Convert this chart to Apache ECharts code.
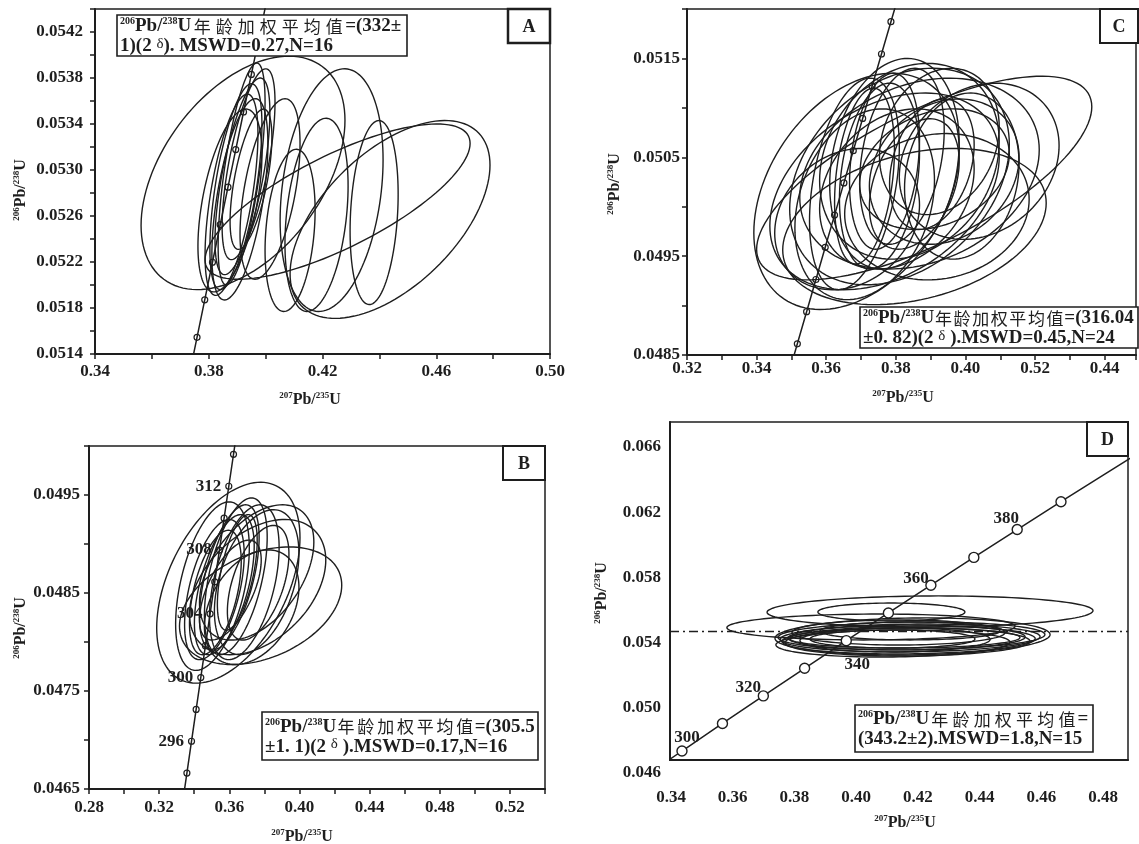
<!DOCTYPE html>
<html><head><meta charset="utf-8">
<script src="https://cdn.jsdelivr.net/npm/echarts@6/dist/echarts.min.js"></script>
<style>html,body{margin:0;padding:0;background:#fff}#c{width:1139px;height:844px}</style>
</head><body><div id="c"></div>
<script>
// ---------------- DATA ----------------
// error ellipses: [x_low, x_high, y_low, y_high, rho]  (207Pb/235U , 206Pb/238U)
const ellipsesA = [
  [0.3562, 0.4279, 0.05196, 0.05399, 0.45],
  [0.3787, 0.4719, 0.05205, 0.05340, 0.75],
  [0.4086, 0.4789, 0.05171, 0.05343, 0.55],
  [0.4051, 0.4413, 0.05177, 0.05388, 0.25],
  [0.4297, 0.4466, 0.05183, 0.05343, 0.2],
  [0.4068, 0.4290, 0.05177, 0.05345, 0.3],
  [0.3998, 0.4174, 0.05177, 0.05318, 0.25],
  [0.3833, 0.3998, 0.05200, 0.05393, 0.65],
  [0.3804, 0.3987, 0.05196, 0.05375, 0.6],
  [0.3822, 0.4015, 0.05209, 0.05380, 0.65],
  [0.3787, 0.3973, 0.05191, 0.05366, 0.6],
  [0.3847, 0.4033, 0.05222, 0.05388, 0.65],
  [0.3811, 0.4008, 0.05187, 0.05362, 0.55],
  [0.3875, 0.4022, 0.05231, 0.05353, 0.6],
  [0.3762, 0.3987, 0.05194, 0.05353, 0.5],
  [0.3910, 0.4121, 0.05205, 0.05362, 0.5]
];
const ellipsesC = [
  [0.3392, 0.3982, 0.04896, 0.05135, 0.35],
  [0.3438, 0.4097, 0.04916, 0.05115, 0.35],
  [0.3475, 0.4232, 0.04901, 0.05059, 0.3],
  [0.3400, 0.4363, 0.04926, 0.05132, 0.7],
  [0.3495, 0.4126, 0.04921, 0.05140, 0.3],
  [0.3524, 0.4212, 0.04937, 0.05130, 0.25],
  [0.3581, 0.4097, 0.04947, 0.05145, 0.2],
  [0.3610, 0.3982, 0.04937, 0.05150, 0.2],
  [0.3638, 0.3868, 0.04937, 0.05125, 0.25],
  [0.3667, 0.3868, 0.04957, 0.05135, 0.25],
  [0.3624, 0.3796, 0.04942, 0.05120, 0.3],
  [0.3696, 0.3939, 0.04962, 0.05140, 0.3],
  [0.3724, 0.4154, 0.04962, 0.05109, 0.2],
  [0.3753, 0.4097, 0.04992, 0.05140, 0.2],
  [0.3810, 0.4269, 0.04967, 0.05125, 0.2],
  [0.3696, 0.4126, 0.04977, 0.05099, 0.25],
  [0.3510, 0.3911, 0.04906, 0.05099, 0.25],
  [0.3552, 0.3810, 0.04916, 0.05130, 0.35],
  [0.3653, 0.4183, 0.04926, 0.05074, 0.1],
  [0.3825, 0.4154, 0.04947, 0.05115, 0.15],
  [0.3724, 0.3982, 0.04957, 0.05089, 0.35],
  [0.3452, 0.3868, 0.04916, 0.05059, 0.2],
  [0.3782, 0.4025, 0.04977, 0.05109, 0.3],
  [0.3581, 0.4025, 0.04937, 0.05099, 0.25]
];
const ellipsesB = [
  [0.3186, 0.4003, 0.04758, 0.04963, 0.45],
  [0.3316, 0.4241, 0.04777, 0.04897, 0.35],
  [0.3373, 0.4150, 0.04787, 0.04925, 0.4],
  [0.3430, 0.4082, 0.04802, 0.04940, 0.45],
  [0.3294, 0.3714, 0.04771, 0.04943, 0.45],
  [0.3345, 0.3685, 0.04782, 0.04925, 0.5],
  [0.3401, 0.3742, 0.04787, 0.04930, 0.55],
  [0.3430, 0.3770, 0.04792, 0.04940, 0.55],
  [0.3458, 0.3816, 0.04787, 0.04947, 0.5],
  [0.3373, 0.3668, 0.04787, 0.04914, 0.5],
  [0.3487, 0.3884, 0.04782, 0.04940, 0.45],
  [0.3515, 0.3997, 0.04787, 0.04935, 0.4],
  [0.3589, 0.3940, 0.04802, 0.04919, 0.5],
  [0.3458, 0.3997, 0.04777, 0.04894, 0.35],
  [0.3430, 0.3782, 0.04802, 0.04904, 0.6],
  [0.3532, 0.3759, 0.04812, 0.04930, 0.55]
];
const ellipsesD = [
  [0.3717, 0.4788, 0.05496, 0.05680, 0.05],
  [0.3884, 0.4367, 0.05532, 0.05638, 0.0],
  [0.3585, 0.4532, 0.05420, 0.05573, 0.05],
  [0.3743, 0.4647, 0.05331, 0.05550, 0.1],
  [0.3753, 0.4630, 0.05361, 0.05526, 0.1],
  [0.3760, 0.4614, 0.05349, 0.05514, 0.1],
  [0.3766, 0.4598, 0.05337, 0.05502, 0.1],
  [0.3776, 0.4581, 0.05325, 0.05491, 0.05],
  [0.3786, 0.4565, 0.05361, 0.05508, 0.05],
  [0.3792, 0.4548, 0.05372, 0.05491, 0.05],
  [0.3746, 0.4515, 0.05319, 0.05479, 0.1],
  [0.3799, 0.4499, 0.05390, 0.05538, 0.0],
  [0.3825, 0.4450, 0.05349, 0.05491, 0.05],
  [0.3858, 0.4400, 0.05372, 0.05479, 0.0],
  [0.3891, 0.4482, 0.05420, 0.05526, 0.0]
];

// concordia points [207Pb/235U, 206Pb/238U] with their ages (Ma)
const agesA = [322, 324, 326, 328, 330, 332, 334, 336, 338, 340, 342];
const concordiaA = [[0.373170,0.0512188],[0.375877,0.0515450],[0.378590,0.0518713],[0.381308,0.0521977],[0.384032,0.0525242],[0.386760,0.0528508],[0.389494,0.0531775],[0.392234,0.0535043],[0.394980,0.0538312],[0.397730,0.0541582],[0.400484,0.0544853]];
const markerAgesA = [324, 326, 328, 330, 332, 334, 336, 338, 340];

const agesC = [304, 306, 308, 310, 312, 314, 316, 318, 320, 322, 324, 326, 328];
const concordiaC = [[0.349042,0.0482876],[0.351701,0.0486130],[0.354366,0.0489383],[0.357037,0.0492638],[0.359712,0.0495894],[0.362393,0.0499151],[0.365079,0.0502408],[0.367771,0.0505667],[0.370467,0.0508927],[0.373170,0.0512188],[0.375877,0.0515450],[0.378590,0.0518713],[0.381308,0.0521977]];
const markerAgesC = [306, 308, 310, 312, 314, 316, 318, 320, 322, 324, 326];

const agesB = [292, 294, 296, 298, 300, 302, 304, 306, 308, 310, 312, 314, 316];
const concordiaB = [[0.333192,0.0463381],[0.335821,0.0466624],[0.338455,0.0469875],[0.341093,0.0473124],[0.343738,0.0476374],[0.346387,0.0479625],[0.349042,0.0482876],[0.351701,0.0486130],[0.354366,0.0489383],[0.357037,0.0492638],[0.359712,0.0495894],[0.362393,0.0499151],[0.365079,0.0502408]];
const markerAgesB = [294, 296, 298, 300, 302, 304, 306, 308, 310, 312, 314];
const labelAgesB = [296, 300, 304, 308, 312];

const agesD = [290, 300, 310, 320, 330, 340, 350, 360, 370, 380, 390, 400, 410];
const concordiaD = [[0.330569,0.0460135],[0.343738,0.0476374],[0.357037,0.0492638],[0.370467,0.0508927],[0.384032,0.0525242],[0.397730,0.0541582],[0.411563,0.0557948],[0.425533,0.0574338],[0.439642,0.0590755],[0.453891,0.0607196],[0.468280,0.0623664],[0.482812,0.0640155],[0.497487,0.0656674]];
const markerAgesD = [300, 310, 320, 330, 340, 350, 360, 370, 380, 390];
const labelAgesD = [300, 320, 340, 360, 380];
const meanLineD = 0.0547;

// tick labels
const xTickA = ['0.34', '0.38', '0.42', '0.46', '0.50'];
const yTickA = ['0.0514', '0.0518', '0.0522', '0.0526', '0.0530', '0.0534', '0.0538', '0.0542'];
const xTickValC = [0.32, 0.34, 0.36, 0.38, 0.40, 0.42, 0.44];
const xTickC = ['0.32', '0.34', '0.36', '0.38', '0.40', '0.52', '0.44'];
const yTickC = ['0.0485', '0.0495', '0.0505', '0.0515'];
const xTickB = ['0.28', '0.32', '0.36', '0.40', '0.44', '0.48', '0.52'];
const yTickB = ['0.0465', '0.0475', '0.0485', '0.0495'];
const xTickD = ['0.34', '0.36', '0.38', '0.40', '0.42', '0.44', '0.46', '0.48'];
const yTickD = ['0.046', '0.050', '0.054', '0.058', '0.062', '0.066'];

// annotation texts
const infoA = ['年龄加权平均值', '=(332±', '1)(2 ', '). MSWD=0.27,N=16'];
const infoC = ['年龄加权平均值', '=(316.04', '±0. 82)(2 ', ' ).MSWD=0.45,N=24'];
const infoB = ['年龄加权平均值', '=(305.5', '±1. 1)(2 ', ' ).MSWD=0.17,N=16'];
const infoD = ['年龄加权平均值', '=', '(343.2±2).MSWD=1.8,N=15'];

// ---------------- STYLE / HELPERS ----------------
const INK = '#1e1e1e';
const SERIF = 'Liberation Serif, serif';
const CJK = 'Noto Sans CJK SC';

function pick(ages, coords, sel) { return sel.map(a => coords[ages.indexOf(a)]); }
function tickFmt(values, labels) {
  return function (v) {
    for (let i = 0; i < values.length; i++) if (Math.abs(v - values[i]) < 1e-7) return labels[i];
    return '';
  };
}
function ellipseRender(params, api) {
  const xlo = api.value(0), xhi = api.value(1), ylo = api.value(2), yhi = api.value(3), rho = api.value(4);
  const cx = (xlo + xhi) / 2, cy = (ylo + yhi) / 2, sx = (xhi - xlo) / 2, sy = (yhi - ylo) / 2;
  const k = Math.sqrt(1 - rho * rho);
  const pts = [];
  const n = 120;
  for (let i = 0; i < n; i++) {
    const t = i / n * 2 * Math.PI;
    pts.push(api.coord([cx + sx * Math.cos(t), cy + sy * (rho * Math.cos(t) + k * Math.sin(t))]));
  }
  return { type: 'polygon', shape: { points: pts }, style: { fill: 'none', stroke: INK, lineWidth: 1.4 } };
}
const labelStyle = { color: INK, fontFamily: SERIF, fontWeight: 'bold', fontSize: 17 };
function xAxisCfg(gi, min, max, interval, values, labels, margin) {
  return { gridIndex: gi, type: 'value', min, max, interval,
    axisLine: { show: true, onZero: false, lineStyle: { color: INK, width: 2 } },
    axisTick: { show: true, length: 5, lineStyle: { color: INK, width: 1.5 } },
    splitLine: { show: false },
    axisLabel: Object.assign({ formatter: tickFmt(values, labels), margin }, labelStyle) };
}
const yAxisCfg = xAxisCfg;

function ellSeries(gi, data) {
  return { type: 'custom', xAxisIndex: gi, yAxisIndex: gi, renderItem: ellipseRender, data,
    encode: { x: [0, 1], y: [2, 3] }, clip: true, silent: true, z: 2 };
}
function concLine(gi, data) {
  return { type: 'line', xAxisIndex: gi, yAxisIndex: gi, data, showSymbol: false, symbol: 'none',
    lineStyle: { color: INK, width: 1.5 }, clip: true, silent: true, z: 3 };
}
function smallMarkers(gi, data) {
  return { type: 'scatter', xAxisIndex: gi, yAxisIndex: gi, data, symbol: 'circle', symbolSize: 6,
    itemStyle: { color: 'rgba(0,0,0,0)', borderColor: INK, borderWidth: 1.2, opacity: 1 }, silent: true, z: 4 };
}

const titleRich = {
  s: { fontSize: 9, fontFamily: SERIF, fontWeight: 'bold', fill: INK, color: INK, verticalAlign: 'top', lineHeight: 18 },
  t: { fontSize: 16, fontFamily: SERIF, fontWeight: 'bold', fill: INK, color: INK, lineHeight: 18 }
};
function axisTitle(x, y, rot, a, b) {
  return { type: 'text', x, y, rotation: rot, z: 100,
    style: { text: '{s|' + a + '}{t|Pb/}{s|' + b + '}{t|U}', rich: titleRich,
      textAlign: 'center', align: 'center', textVerticalAlign: 'middle', verticalAlign: 'middle', fill: INK } };
}
function infoRich(fs, pad) {
  const lh = fs + 1;
  return {
    s: { fontSize: 10, fontFamily: SERIF, fontWeight: 'bold', fill: INK, verticalAlign: 'top', lineHeight: lh },
    b: { fontSize: fs, fontFamily: SERIF, fontWeight: 'bold', fill: INK, lineHeight: lh },
    c: { fontSize: 17, fontFamily: CJK, fontWeight: 'normal', fill: INK, lineHeight: lh, padding: [0, pad, 0, pad] },
    d: { fontSize: fs - 4, fontFamily: SERIF, fontWeight: 'normal', fill: INK, verticalAlign: 'top', lineHeight: lh }
  };
}
function infoBox(x, y, w, h, info, withDelta, fs, pad) {
  const cjk = info[0].split('').map(ch => '{c|' + ch + '}').join('');
  const l1 = '{s|206}{b|Pb/}{s|238}{b|U}' + cjk + '{b|' + info[1] + '}';
  const l2 = withDelta ? '{b|' + info[2] + '}{d|δ}{b|' + info[3] + '}' : '{b|' + info[2] + '}';
  return [
    { type: 'rect', shape: { x, y, width: w, height: h }, style: { fill: '#fff', stroke: INK, lineWidth: 1.6 }, z: 90 },
    { type: 'text', x: x + 3, y: y + h / 2 + 1, z: 91,
      style: { text: l1 + '\n' + l2, rich: infoRich(fs, pad), textVerticalAlign: 'middle', verticalAlign: 'middle', fill: INK } }
  ];
}
function panelTag(x, y, w, h, letter, lw) {
  return [
    { type: 'rect', shape: { x, y, width: w, height: h }, style: { fill: '#fff', stroke: INK, lineWidth: lw }, z: 90 },
    { type: 'text', x: x + w / 2, y: y + h / 2 + 1, z: 91,
      style: { text: letter, font: 'bold 18px Liberation Serif', fill: INK,
        textAlign: 'center', align: 'center', textVerticalAlign: 'middle', verticalAlign: 'middle' } }
  ];
}

const gridBase = { show: true, borderColor: INK, borderWidth: 1.5, backgroundColor: 'transparent', containLabel: false };

const markersB = pick(agesB, concordiaB, markerAgesB);
const markersD = pick(agesD, concordiaD, markerAgesD);
const labelOffsetD = { 300: [5, -13], 320: [-15, -8], 340: [11, 24], 360: [-15, -7], 380: [-11, -11] };

const option = {
  animation: false,
  backgroundColor: '#fff',
  grid: [
    Object.assign({ left: 95, top: 9, width: 455, height: 345 }, gridBase),
    Object.assign({ left: 687, top: 9, width: 451, height: 346 }, gridBase),
    Object.assign({ left: 89, top: 446, width: 456, height: 343 }, gridBase),
    Object.assign({ left: 670, top: 422, width: 458, height: 338 }, gridBase),
    { left: 671, top: 447, width: 432, height: 326, show: false }
  ],
  xAxis: [
    xAxisCfg(0, 0.34, 0.50, 0.02, xTickA.map(Number), xTickA, 9),
    xAxisCfg(1, 0.32, 0.449, 0.01, xTickValC, xTickC, 5),
    xAxisCfg(2, 0.28, 0.54, 0.02, xTickB.map(Number), xTickB, 10),
    { gridIndex: 3, type: 'value', min: 0.3398, max: 0.4903, axisLine: { show: true, onZero: false, lineStyle: { color: INK, width: 2 } },
      axisTick: { show: false }, axisLabel: { show: false }, splitLine: { show: false } },
    { gridIndex: 4, type: 'value', min: 0.34, max: 0.48, interval: 0.02, axisLine: { show: false }, axisTick: { show: false }, splitLine: { show: false },
      axisLabel: Object.assign({ formatter: tickFmt(xTickD.map(Number), xTickD), margin: 16 }, labelStyle) }
  ],
  yAxis: [
    yAxisCfg(0, 0.0514, 0.0544, 0.0002, yTickA.map(Number), yTickA, 12),
    yAxisCfg(1, 0.0485, 0.0520, 0.0005, yTickC.map(Number), yTickC, 7),
    yAxisCfg(2, 0.0465, 0.0500, 0.0005, yTickB.map(Number), yTickB, 9),
    { gridIndex: 3, type: 'value', min: 0.047106, max: 0.067075, axisLine: { show: true, onZero: false, lineStyle: { color: INK, width: 2 } },
      axisTick: { show: false }, axisLabel: { show: false }, splitLine: { show: false } },
    { gridIndex: 4, type: 'value', min: 0.046, max: 0.066, interval: 0.004, axisLine: { show: false }, axisTick: { show: false }, splitLine: { show: false },
      axisLabel: Object.assign({ formatter: tickFmt(yTickD.map(Number), yTickD), margin: 10 }, labelStyle) }
  ],
  series: [
    ellSeries(0, ellipsesA), concLine(0, concordiaA), smallMarkers(0, pick(agesA, concordiaA, markerAgesA)),
    ellSeries(1, ellipsesC), concLine(1, concordiaC), smallMarkers(1, pick(agesC, concordiaC, markerAgesC)),
    ellSeries(2, ellipsesB), concLine(2, concordiaB),
    Object.assign(smallMarkers(2, markersB), {
      label: { show: true, position: 'left', distance: 4, color: INK, fontFamily: SERIF, fontWeight: 'bold', fontSize: 17,
        formatter: p => labelAgesB.includes(markerAgesB[p.dataIndex]) ? String(markerAgesB[p.dataIndex]) : '' } }),
    ellSeries(3, ellipsesD),
    Object.assign(concLine(3, concordiaD), {
      markLine: { silent: true, symbol: 'none', precision: 6, label: { show: false },
        lineStyle: { color: INK, width: 1.3, type: [9, 4, 2, 4] }, data: [{ yAxis: meanLineD }] } }),
    { type: 'scatter', xAxisIndex: 3, yAxisIndex: 3, symbol: 'circle', symbolSize: 10, silent: true, z: 5,
      itemStyle: { color: '#fff', borderColor: INK, borderWidth: 1.4, opacity: 1 },
      data: markersD.map((c, i) => {
        const age = markerAgesD[i];
        if (labelAgesD.includes(age)) {
          return { value: c, label: { show: true, position: 'inside', offset: labelOffsetD[age], formatter: String(age),
            color: INK, fontFamily: SERIF, fontWeight: 'bold', fontSize: 17 } };
        }
        return { value: c };
      }) }
  ],
  graphic: [
    axisTitle(310, 400, 0, '207', '235'),
    axisTitle(903, 398, 0, '207', '235'),
    axisTitle(302, 837, 0, '207', '235'),
    axisTitle(905, 823, 0, '207', '235'),
    axisTitle(21, 190, Math.PI / 2, '206', '238'),
    axisTitle(615, 184, Math.PI / 2, '206', '238'),
    axisTitle(21, 628, Math.PI / 2, '206', '238'),
    axisTitle(602, 593, Math.PI / 2, '206', '238')
  ].concat(
    infoBox(117, 15, 290, 41, infoA, true, 19, 2.5),
    infoBox(860, 307, 278, 41, infoC, true, 19, 0.8),
    infoBox(262, 712, 276, 48, infoB, true, 19, 1.4),
    infoBox(855, 705, 238, 47, infoD, false, 19, 2.1),
    panelTag(508, 9, 42, 34, 'A', 2.5),
    panelTag(1100, 9, 38, 34, 'C', 2),
    panelTag(503, 446, 42, 34, 'B', 2),
    panelTag(1087, 422, 41, 34, 'D', 2)
  )
};

const chart = echarts.init(document.getElementById('c'), null, { renderer: 'canvas' });
chart.setOption(option);
</script></body></html>
